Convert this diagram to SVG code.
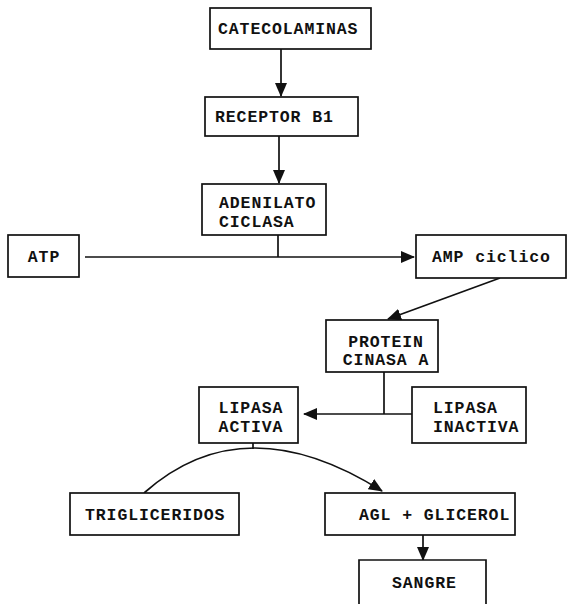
<svg xmlns="http://www.w3.org/2000/svg" width="568" height="604" viewBox="0 0 568 604">
<style>
.box{fill:#fff;stroke:#111;stroke-width:1.7}
.t{font-family:"Liberation Mono","DejaVu Sans Mono",monospace;font-weight:bold;font-size:16.5px;letter-spacing:0.9px;fill:#111}
.c{fill:none;stroke:#111;stroke-width:1.7}
</style>
<defs>
<marker id="ah" viewBox="0 0 14 12" refX="13" refY="6" markerWidth="14" markerHeight="12" markerUnits="userSpaceOnUse" orient="auto">
<path d="M0,0 L14,6 L0,12 Z" fill="#111"/>
</marker>
</defs>
<rect width="568" height="604" fill="#fff"/>
<g id="connectors">
<line class="c" x1="281" y1="49" x2="281" y2="96" marker-end="url(#ah)"/>
<line class="c" x1="279" y1="136" x2="279" y2="183" marker-end="url(#ah)"/>
<line class="c" x1="85" y1="257" x2="414" y2="257" marker-end="url(#ah)"/>
<line class="c" x1="278" y1="235" x2="278" y2="257"/>
<line class="c" x1="500" y1="278" x2="388" y2="319" marker-end="url(#ah)"/>
<line class="c" x1="384" y1="372" x2="384" y2="414"/>
<line class="c" x1="412" y1="414" x2="304" y2="414" marker-end="url(#ah)"/>
<line class="c" x1="253" y1="443" x2="253" y2="449"/>
<path class="c" d="M144,493 Q244,404 382,491" marker-end="url(#ah)"/>
<line class="c" x1="423" y1="535" x2="423" y2="560" marker-end="url(#ah)"/>
</g>
<g id="catecolaminas">
<rect class="box" x="210" y="8" width="161" height="41"/>
<text class="t" x="218" y="34">CATECOLAMINAS</text>
</g>
<g id="receptor">
<rect class="box" x="205" y="97" width="153" height="39"/>
<text class="t" x="215" y="122">RECEPTOR B1</text>
</g>
<g id="adenilato">
<rect class="box" x="202" y="184" width="124" height="51"/>
<text class="t" x="219" y="208">ADENILATO</text>
<text class="t" x="219" y="227">CICLASA</text>
</g>
<g id="atp">
<rect class="box" x="8" y="235" width="71" height="42"/>
<text class="t" x="44" y="262" text-anchor="middle">ATP</text>
</g>
<g id="amp">
<rect class="box" x="416" y="235" width="150" height="43"/>
<text class="t" x="432" y="262">AMP ciclico</text>
</g>
<g id="protein">
<rect class="box" x="326" y="320" width="112" height="52"/>
<text class="t" x="386" y="347" text-anchor="middle">PROTEIN</text>
<text class="t" x="386" y="365" text-anchor="middle">CINASA A</text>
</g>
<g id="lipasa-activa">
<rect class="box" x="199" y="387" width="99" height="56"/>
<text class="t" x="251" y="413" text-anchor="middle">LIPASA</text>
<text class="t" x="251" y="432" text-anchor="middle">ACTIVA</text>
</g>
<g id="lipasa-inactiva">
<rect class="box" x="412" y="387" width="114" height="56"/>
<text class="t" x="433" y="413">LIPASA</text>
<text class="t" x="433" y="432">INACTIVA</text>
</g>
<g id="trigliceridos">
<rect class="box" x="70" y="493" width="169" height="42"/>
<text class="t" x="85" y="520">TRIGLICERIDOS</text>
</g>
<g id="agl">
<rect class="box" x="325" y="493" width="190" height="42"/>
<text class="t" x="359" y="520">AGL + GLICEROL</text>
</g>
<g id="sangre">
<path class="box" d="M359,604 V560 H486 V604"/>
<text class="t" x="392" y="588">SANGRE</text>
</g>
</svg>
